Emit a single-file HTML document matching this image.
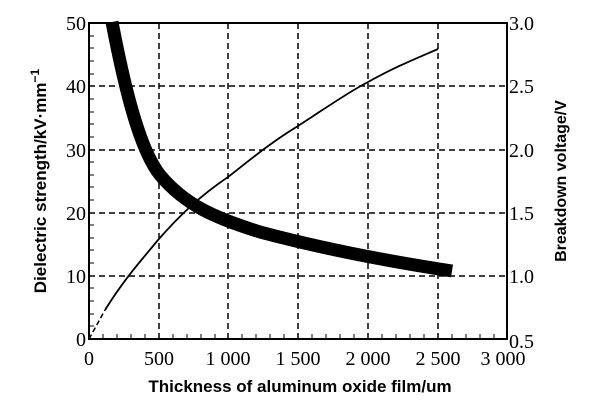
<!DOCTYPE html>
<html><head><style>body{margin:0;background:#fff}</style></head><body>
<svg width="600" height="400" xmlns="http://www.w3.org/2000/svg" font-family="Liberation Serif, serif">
<g stroke="#000" stroke-width="1.5" stroke-dasharray="6,4" fill="none">
<line x1="89" y1="276" x2="507" y2="276"/><line x1="89" y1="213" x2="507" y2="213"/>
<line x1="89" y1="150" x2="507" y2="150"/><line x1="89" y1="86" x2="507" y2="86"/>
<line x1="159" y1="23" x2="159" y2="339"/><line x1="228" y1="23" x2="228" y2="339"/>
<line x1="298" y1="23" x2="298" y2="339"/><line x1="368" y1="23" x2="368" y2="339"/>
<line x1="438" y1="23" x2="438" y2="339"/>
</g>
<rect x="89" y="23" width="418" height="316" fill="none" stroke="#000" stroke-width="2"/>
<g stroke="#000" stroke-width="1">
<path d="M103 339v-5M117 339v-5M131 339v-5M145 339v-5M173 339v-5M187 339v-5M201 339v-5M215 339v-5M242 339v-5M256 339v-5M270 339v-5M284 339v-5M312 339v-5M326 339v-5M340 339v-5M354 339v-5M382 339v-5M396 339v-5M410 339v-5M424 339v-5M452 339v-5M466 339v-5M480 339v-5M494 339v-5"/>
<path d="M89 326h5M89 314h5M89 301h5M89 288h5M89 263h5M89 250h5M89 238h5M89 225h5M89 200h5M89 187h5M89 175h5M89 162h5M89 137h5M89 124h5M89 112h5M89 99h5M89 74h5M89 61h5M89 48h5M89 36h5"/>
</g>
<path d="M112 22 C125 90,140 150,160 175 C185 205,215 218,260 232 C320 248,380 260,452 271" fill="none" stroke="#000" stroke-width="13"/>
<path d="M89 339 L105 310" fill="none" stroke="#000" stroke-width="1.5" stroke-dasharray="5,3"/>
<path d="M105 310 C125 278,140 262,158 240 C180 215,200 196,228 177 C250 160,270 143,298 126 C320 112,345 94,368 82 C395 67,415 59,438 49" fill="none" stroke="#000" stroke-width="1.8"/>
<g font-size="20" text-anchor="end">
<text x="86" y="346">0</text><text x="86" y="283">10</text><text x="86" y="220">20</text>
<text x="86" y="157">30</text><text x="86" y="93">40</text><text x="86" y="30">50</text>
</g>
<g font-size="20" text-anchor="start">
<text x="509" y="30">3.0</text><text x="509" y="93">2.5</text><text x="509" y="157">2.0</text>
<text x="509" y="220">1.5</text><text x="509" y="283">1.0</text><text x="509" y="348">0.5</text>
</g>
<g font-size="20" text-anchor="middle">
<text x="89" y="365">0</text><text x="159" y="365">500</text><text x="228" y="365">1 000</text>
<text x="298" y="365">1 500</text><text x="368" y="365">2 000</text><text x="438" y="365">2 500</text>
<text x="503" y="365">3 000</text>
</g>
<text x="300" y="392" font-family="Liberation Sans, sans-serif" font-weight="bold" font-size="17" text-anchor="middle">Thickness of aluminum oxide film/um</text>
<text transform="translate(46,181) rotate(-90)" font-family="Liberation Sans, sans-serif" font-weight="bold" font-size="17" text-anchor="middle">Dielectric strength/kV·mm<tspan font-size="12" dy="-7">−1</tspan></text>
<text transform="translate(566,181) rotate(-90)" font-family="Liberation Sans, sans-serif" font-weight="bold" font-size="16" text-anchor="middle">Breakdown voltage/V</text>
</svg>
</body></html>
